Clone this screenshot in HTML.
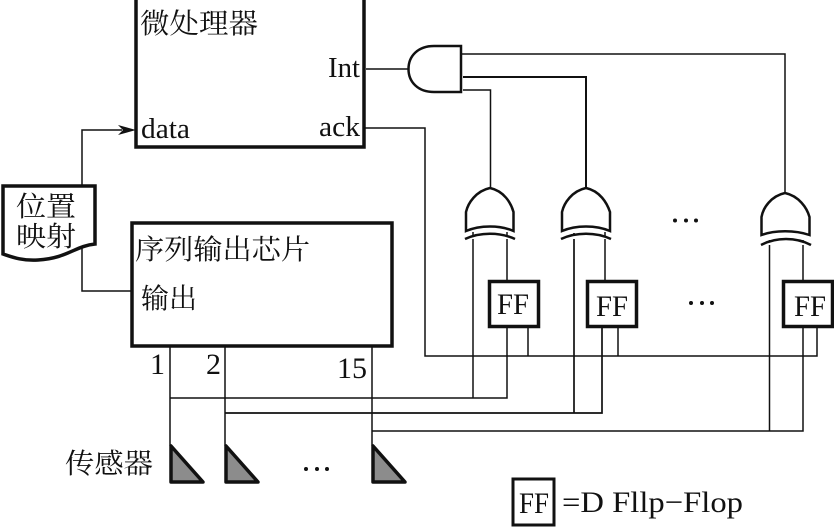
<!DOCTYPE html>
<html><head><meta charset="utf-8"><style>
html,body{margin:0;padding:0;background:#fff;width:834px;height:528px;overflow:hidden}
svg{display:block}
text{fill:#111;font-family:"Liberation Serif","Noto Serif CJK SC",serif}
.c{font-size:28px}
.l{font-size:28px}
.f{font-size:30px}
</style></head><body>
<svg width="834" height="528" viewBox="0 0 834 528" fill="none" stroke="#111" stroke-width="1.5">
<!-- boxes -->
<rect x="136" y="-4" width="228" height="151" stroke-width="3.5" fill="#fff"/>
<rect x="132" y="223" width="260" height="123" stroke-width="3.5" fill="#fff"/>
<!-- document -->
<path d="M3 186H95V244C75 246 68 258 38 260C22 261 12 257 3 254Z" stroke-width="3.5" fill="#fff"/>
<!-- wires -->
<path d="M82 186V130H122M82 246V291H131"/>
<path d="M118 125L136 130L118 135L123 130Z" fill="#111" stroke="none"/>
<path d="M366 69H408" stroke-width="1.5"/>
<path d="M363 128H425V356H817V328"/>
<path d="M528 328V356M618 328V356"/>
<path d="M462 54H785V193"/>
<path d="M463 77H586V188" stroke-width="2"/>
<path d="M463 90H490.500V188"/>
<!-- AND -->
<path d="M461 46V92H434C418 92 408.500 82 408.500 69C408.500 56 418 46 434 46Z" stroke-width="2.500" fill="#fff"/>
<!-- sensor lines -->
<path d="M170 346V446M225 346V446M372 346V446"/>
<path d="M170 398H507V328M473 398V232" />
<path d="M225 413H602V328M574 413V233" stroke-width="1.700"/>
<path d="M372 431H803V240M769.500 431V240" />
<path d="M507 232V280M605 232V280"/>
<!-- XOR gates -->
<g stroke-width="2.500" fill="#fff">
<path d="M490 188C476 191 468 203 466 212V231C480 225 500 225 513.500 231V212C511 203 504 191 490 188Z"/>
<path d="M465 239C480 232 500 232 515 239"/>
<path d="M586 188C572 191 564 203 562 212V231C576 225 596 225 610 231V212C607 203 600 191 586 188Z"/>
<path d="M561 239C576 232 596 232 611 239"/>
<path d="M785 193C771 196 763 208 761.500 217V235C775 230 795 230 809.500 235V217C807 208 799 196 785 193Z"/>
<path d="M761 245C776 237 796 237 811 245"/>
</g>
<!-- FF boxes -->
<g stroke-width="3.500" fill="#fff">
<rect x="489.500" y="281.500" width="49" height="45"/>
<rect x="587.500" y="281.500" width="49" height="45"/>
<rect x="783.500" y="281.500" width="49" height="45"/>
<rect x="513" y="479" width="41" height="46" stroke-width="3"/>
</g>
<!-- triangles -->
<g fill="#8c8c8c" stroke-width="3.500" stroke-linejoin="round">
<path d="M171 446V482H203Z"/>
<path d="M226 446V482H258Z"/>
<path d="M373 446V482H405Z"/>
</g>
<!-- dots -->
<g fill="#111" stroke="none">
<circle cx="675" cy="220.500" r="2"/><circle cx="686" cy="220.500" r="2"/><circle cx="696" cy="220.500" r="2"/>
<circle cx="691" cy="303" r="2"/><circle cx="702" cy="303" r="2"/><circle cx="712" cy="303" r="2"/>
<circle cx="306" cy="469" r="2"/><circle cx="317" cy="469" r="2"/><circle cx="327" cy="469" r="2"/>
</g>
<g stroke="none">
<text class="c" x="140" y="33" textLength="118" lengthAdjust="spacingAndGlyphs">微处理器</text>
<text class="l" x="328" y="77" textLength="32" lengthAdjust="spacingAndGlyphs">Int</text>
<text class="l" x="141" y="138" textLength="49" lengthAdjust="spacingAndGlyphs">data</text>
<text class="l" x="319" y="136" textLength="41" lengthAdjust="spacingAndGlyphs">ack</text>
<text class="c" x="16" y="216" textLength="60" lengthAdjust="spacingAndGlyphs">位置</text>
<text class="c" x="16" y="246" textLength="60" lengthAdjust="spacingAndGlyphs">映射</text>
<text class="c" x="135" y="259" textLength="175" lengthAdjust="spacingAndGlyphs">序列输出芯片</text>
<text class="c" x="141" y="308" textLength="56" lengthAdjust="spacingAndGlyphs">输出</text>
<text class="c" x="65" y="473" textLength="88" lengthAdjust="spacingAndGlyphs">传感器</text>
<text class="f" x="150" y="374">1</text>
<text class="f" x="206" y="374">2</text>
<text class="f" x="337" y="378">15</text>
<text class="f" x="497" y="314" textLength="32" lengthAdjust="spacingAndGlyphs">FF</text>
<text class="f" x="596" y="316" textLength="32" lengthAdjust="spacingAndGlyphs">FF</text>
<text class="f" x="794" y="316" textLength="32" lengthAdjust="spacingAndGlyphs">FF</text>
<text class="f" x="519" y="513" textLength="30" lengthAdjust="spacingAndGlyphs">FF</text>
<text class="f" x="562" y="512" textLength="181" lengthAdjust="spacingAndGlyphs">=D Fllp−Flop</text>
</g>
</svg>
</body></html>
